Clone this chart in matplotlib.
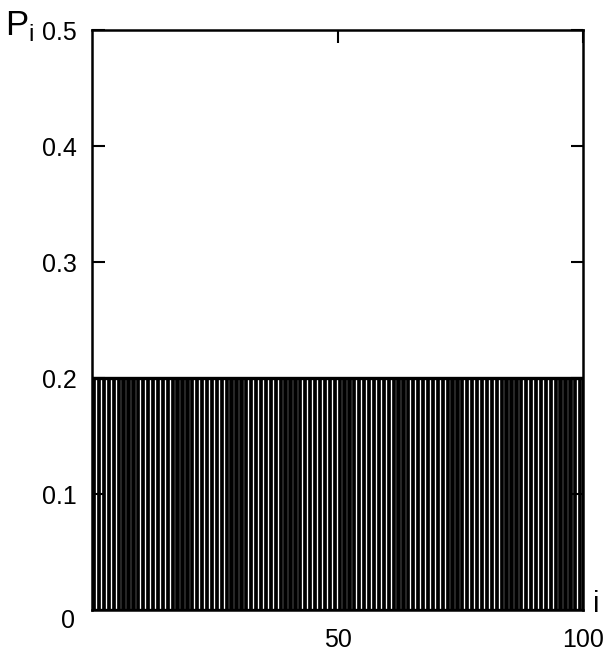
import numpy as np
import matplotlib
matplotlib.use("Agg")
import matplotlib.pyplot as plt

plt.rcParams['font.family'] = ['Liberation Sans', 'DejaVu Sans']
plt.rcParams['mathtext.fontset'] = 'custom'
plt.rcParams['mathtext.rm'] = 'Liberation Sans'

i_vals = list(range(1, 101))
p_vals = [0.2] * 100
xticks = [50, 100]
yticks = [0.1, 0.2, 0.3, 0.4, 0.5]

fig = plt.figure(figsize=(6.03, 6.55), dpi=100)
ax = fig.add_axes([92/603, 1 - 610/655, (583-92)/603, (610-30)/655])

ax.bar(np.array(i_vals) - 1, p_vals, width=0.66, align='edge',
       color='black', edgecolor='black', linewidth=0.5)
ax.axhline(0.2, xmin=0, xmax=1, color='black', lw=2.4)
ax.plot([0, 0], [0, 0.2], color='black', lw=2.2)
ax.plot([100, 100], [0, 0.2], color='black', lw=2.2)
ax.axhline(0.0, xmin=0, xmax=1, color='black', lw=2.4)

ax.set_xlim(0, 100)
ax.set_ylim(0, 0.5)
ax.set_xticks(xticks)
ax.set_xticklabels([str(t) for t in xticks], fontsize=18)
ax.set_yticks(yticks)
ax.set_yticklabels([f"{t:.1f}" for t in yticks], fontsize=18)
ax.tick_params(direction='in', length=9, width=1.5, top=True, right=True,
               labeltop=False, labelright=False, pad=11)
ax.tick_params(axis='x', pad=13, bottom=False)
for s in ax.spines.values():
    s.set_linewidth(1.8)

fig.text(68/603, 1 - 621/655, "0", fontsize=18, ha='center', va='center')
fig.text(596/603, 1 - 604/655, "i", fontsize=21, ha='center', va='center')
fig.text(5/603, 1 - 26/655, r"P$_\mathregular{i}$", fontsize=25, ha='left', va='center')

fig.savefig("out.png", dpi=100)
